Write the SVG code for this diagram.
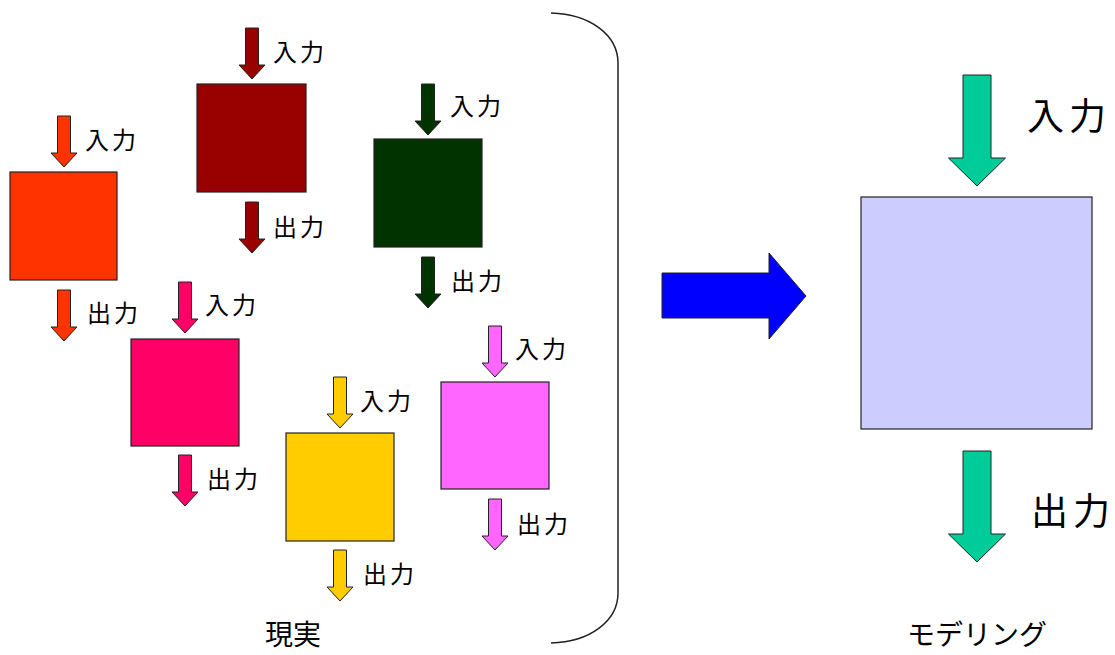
<svg xmlns="http://www.w3.org/2000/svg" xmlns:xlink="http://www.w3.org/1999/xlink" width="1115" height="655" viewBox="0 0 1115 655">
<style>
.box{stroke:#222;stroke-width:1.2}
.arr{stroke:#222;stroke-width:1}
.lbl{font-family:"Noto Sans CJK JP","Noto Sans",sans-serif;font-size:24px;letter-spacing:3px;fill:#000}
.big{font-family:"Noto Sans CJK JP","Noto Sans",sans-serif;font-size:37px;letter-spacing:5px;fill:#000}
.cap{font-family:"Noto Sans CJK JP","Noto Sans",sans-serif;font-size:28px;fill:#000}
</style>
<defs>
<path id="sa" d="M-6.5,0 H6.5 V37 H13 L0,51 L-13,37 H-6.5 Z"/>
<path id="ba" d="M-14,0 H14 V83 H28.5 L0,111 L-28.5,83 H-14 Z"/>
</defs>
<rect width="1115" height="655" fill="#fff"/>

<g id="node-orange">
<rect class="box" x="10" y="172" width="107" height="108" fill="#FF3300"/>
<use href="#sa" class="arr" fill="#FF3300" transform="translate(64,116)"/>
<use href="#sa" class="arr" fill="#FF3300" transform="translate(64,290)"/>
<text class="lbl" x="85" y="149">入力</text>
<text class="lbl" x="87" y="322">出力</text>
</g>

<g id="node-darkred">
<rect class="box" x="197" y="84" width="109" height="108" fill="#990000"/>
<use href="#sa" class="arr" fill="#990000" transform="translate(252,28)"/>
<use href="#sa" class="arr" fill="#990000" transform="translate(252,202)"/>
<text class="lbl" x="273" y="61">入力</text>
<text class="lbl" x="273" y="236">出力</text>
</g>

<g id="node-green">
<rect class="box" x="374" y="139" width="108" height="108" fill="#003300"/>
<use href="#sa" class="arr" fill="#003300" transform="translate(428,84)"/>
<use href="#sa" class="arr" fill="#003300" transform="translate(428,257)"/>
<text class="lbl" x="450" y="115">入力</text>
<text class="lbl" x="451" y="290">出力</text>
</g>

<g id="node-crimson">
<rect class="box" x="131" y="339" width="108" height="107" fill="#FF0066"/>
<use href="#sa" class="arr" fill="#FF0066" transform="translate(185,282)"/>
<use href="#sa" class="arr" fill="#FF0066" transform="translate(185,455)"/>
<text class="lbl" x="205" y="314">入力</text>
<text class="lbl" x="207" y="488">出力</text>
</g>

<g id="node-yellow">
<rect class="box" x="286" y="433" width="108" height="108" fill="#FFCC00"/>
<use href="#sa" class="arr" fill="#FFCC00" transform="translate(340,377)"/>
<use href="#sa" class="arr" fill="#FFCC00" transform="translate(340,550)"/>
<text class="lbl" x="360" y="410">入力</text>
<text class="lbl" x="363" y="583">出力</text>
</g>

<g id="node-magenta">
<rect class="box" x="441" y="382" width="108" height="107" fill="#FF66FF"/>
<use href="#sa" class="arr" fill="#FF66FF" transform="translate(495,326)"/>
<use href="#sa" class="arr" fill="#FF66FF" transform="translate(495,499)"/>
<text class="lbl" x="515" y="358">入力</text>
<text class="lbl" x="517" y="533">出力</text>
</g>

<g id="bracket">
<path d="M551,13 C590,14 618,35 618,63 V593 C618,621 590,642 551,643" fill="none" stroke="#222" stroke-width="1.5"/>
<text class="cap" x="265" y="645">現実</text>
</g>

<g id="connectors">
<path d="M662,273 H769 V253 L806,296 L769,339 V318 H662 Z" fill="#0000FF" stroke="#222" stroke-width="1"/>
</g>

<g id="node-model">
<rect class="box" x="861" y="197" width="231" height="232" fill="#CCCCFF"/>
<use href="#ba" class="arr" fill="#00CC99" transform="translate(977,75)"/>
<use href="#ba" class="arr" fill="#00CC99" transform="translate(977,451)"/>
<text class="big" x="1027" y="130">入力</text>
<text class="big" x="1031" y="525">出力</text>
<text class="cap" x="907" y="645">モデリング</text>
</g>
</svg>
